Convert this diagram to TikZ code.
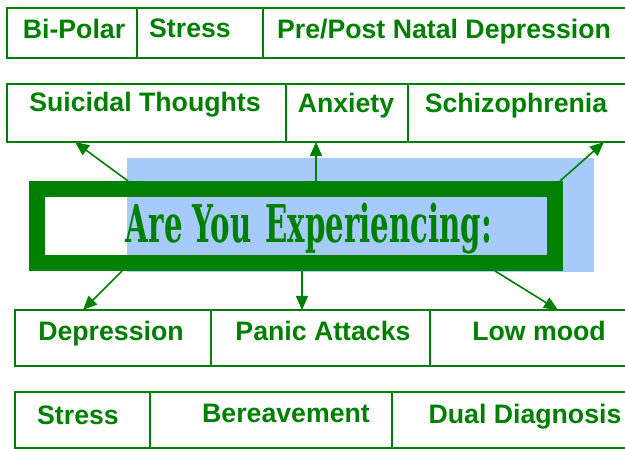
\documentclass[tikz,border=0pt]{standalone}
\usepackage{fontspec}
\usepackage{graphicx}
\setmainfont{Liberation Sans}
\newfontfamily\slabfont{DejaVu Serif Condensed}
\usepackage{tikz}
\usetikzlibrary{arrows.meta}
\definecolor{leafgreen}{RGB}{0,128,0}
\definecolor{paleblue}{RGB}{166,202,250}
\tikzset{>/.tip={Triangle[length=14pt,width=12pt]}}

\begin{document}
\begin{tikzpicture}[x=1pt,y=-1pt,
  cell/.style={draw=leafgreen, line width=2pt, anchor=north west, inner sep=0pt, outer sep=0pt},
  lbl/.style={anchor=base, text=leafgreen, inner sep=0pt, font=\fontsize{26.7}{27}\selectfont\bfseries},
  conn/.style={->, draw=leafgreen, line width=1.6pt}]
\useasboundingbox (0,0) rectangle (625,449);
\clip (0,0) rectangle (625,449);

\node[cell, minimum width=130pt, minimum height=50pt] (bipolar) at (7,8) {};
\node[cell, minimum width=126pt, minimum height=50pt] (stress) at (137,8) {};
\node[cell, minimum width=363pt, minimum height=50pt] (natal) at (263,8) {};
\node[lbl] (bipolar text) at (74,39) {Bi-Polar};
\node[lbl] (stress text) at (190,38) {Stress};
\node[lbl] (natal text) at (444,39) {Pre/Post Natal Depression};

\node[cell, minimum width=279pt, minimum height=58pt] (suicidal) at (7,84) {};
\node[cell, minimum width=122pt, minimum height=58pt] (anxiety) at (286,84) {};
\node[cell, minimum width=218pt, minimum height=58pt] (schizo) at (408,84) {};
\node[lbl] (suicidal text) at (145,112) {Suicidal Thoughts};
\node[lbl] (anxiety text) at (346,113) {Anxiety};
\node[lbl] (schizo text) at (516,113) {Schizophrenia};

\fill[paleblue] (127,158) rectangle (594,272);
\node[draw=leafgreen, line width=16pt, minimum width=518pt, minimum height=74pt] (frame) at (296,226) {};
\node[anchor=base, text=leafgreen, inner sep=0pt, font=\slabfont\bfseries\fontsize{52}{52}\selectfont] (frame text) at (309,243)
  {\resizebox{366pt}{\height}{Are You\hspace{0.12em} Experiencing:}};

\node[cell, minimum width=196pt, minimum height=56pt] (depression) at (15,310) {};
\node[cell, minimum width=219pt, minimum height=56pt] (panic) at (211,310) {};
\node[cell, minimum width=196pt, minimum height=56pt] (lowmood) at (430,310) {};
\node[lbl] (depression text) at (111,341) {Depression};
\node[lbl] (panic text) at (323,341) {Panic Attacks};
\node[lbl] (lowmood text) at (539,341) {Low mood};

\node[cell, minimum width=135pt, minimum height=56pt] (stress2) at (15,392) {};
\node[cell, minimum width=242pt, minimum height=56pt] (bereavement) at (150,392) {};
\node[cell, minimum width=234pt, minimum height=56pt] (dual) at (392,392) {};
\node[lbl] (stress2 text) at (78,425) {Stress};
\node[lbl] (bereavement text) at (286,423) {Bereavement};
\node[lbl] (dual text) at (525,424) {Dual Diagnosis};

\draw[conn] ([xshift=99pt]frame.north west) -- ([xshift=68pt]suicidal.south west);
\draw[conn] ([xshift=287pt]frame.north west) -- ([xshift=30pt]anxiety.south west);
\draw[conn] ([xshift=531pt]frame.north west) -- ([xshift=196pt]schizo.south west);
\draw[conn] ([xshift=93pt]frame.south west) -- ([xshift=68pt]depression.north west);
\draw[conn] ([xshift=273pt]frame.south west) -- ([xshift=91pt]panic.north west);
\draw[conn] ([xshift=466pt]frame.south west) -- ([xshift=128pt]lowmood.north west);
\end{tikzpicture}
\end{document}
